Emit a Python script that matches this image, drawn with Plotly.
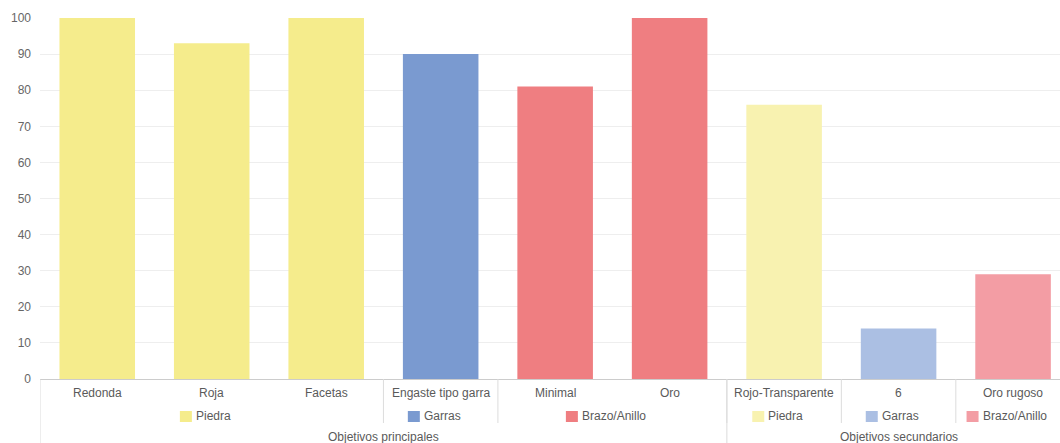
import plotly.graph_objects as go

# three-level category axis: bar label / component / objective group
labels = ["Redonda", "Roja", "Facetas", "Engaste tipo garra", "Minimal", "Oro",
          "Rojo-Transparente", "6", "Oro rugoso"]
components = ["Piedra", "Piedra", "Piedra", "Garras", "Brazo/Anillo", "Brazo/Anillo",
              "Piedra", "Garras", "Brazo/Anillo"]
groups = ["Objetivos principales"] * 6 + ["Objetivos secundarios"] * 3
values = [100, 93, 100, 90, 81, 100, 76, 14, 29]

palette = {
    "Objetivos principales": {"Piedra": "#f5ec8c", "Garras": "#7a9ad0", "Brazo/Anillo": "#ef7e81"},
    "Objetivos secundarios": {"Piedra": "#f8f2b0", "Garras": "#abbfe3", "Brazo/Anillo": "#f39da4"},
}
colors = [palette[g][c] for g, c in zip(groups, components)]

FONT = "Liberation Sans, Arial, sans-serif"
W, H = 1060, 443
M_T, M_B, M_L = 18, 64, 40
PLOT_H = H - M_T - M_B
LINE = "#dcdcdc"
TXT = "#5a5a5a"

# Arial advance widths (per 1000 em) for swatch label centring
CW = {"P": 667, "i": 222, "e": 556, "d": 556, "r": 333, "a": 556, "G": 778, "s": 500,
      "B": 667, "z": 500, "o": 556, "/": 278, "A": 667, "n": 556, "l": 222}


def text_width(s, size=12):
    return sum(CW.get(ch, 556) for ch in s) * size / 1000.0


def runs(keys):
    out, start = [], 0
    for i in range(1, len(keys) + 1):
        if i == len(keys) or keys[i] != keys[start]:
            out.append((start, i - 1))
            start = i
    return out


fig = go.Figure(go.Bar(
    x=labels, y=values, marker_color=colors, marker_line_width=0,
    width=0.66, hoverinfo="x+y",
))

shapes, annotations = [], []

# level 1: bar labels (category index, since "6" would be read as a position)
for i, lab in enumerate(labels):
    annotations.append(dict(x=i, y=0, xref="x", yref="paper", text=lab, showarrow=False,
                            yanchor="middle", yshift=-14, font=dict(size=12, color=TXT)))

# level 2: component with colour swatch (the original sits a few px left of centre)
sub_keys = list(zip(groups, components))
for a, b in runs(sub_keys):
    g, c = sub_keys[a]
    centre = (a + b) / 2.0
    tw = text_width(c)
    total = 12 + 3 + tw
    left = -total / 2 - 7
    shapes.append(dict(type="rect", xref="x", yref="paper", xsizemode="pixel", ysizemode="pixel",
                       xanchor=centre, yanchor=0, x0=left, x1=left + 12, y0=-32, y1=-43,
                       fillcolor=palette[g][c], line=dict(width=0)))
    annotations.append(dict(x=centre, y=0, xref="x", yref="paper", text=c, showarrow=False,
                            xanchor="left", yanchor="middle", xshift=left + 14, yshift=-37,
                            font=dict(size=12, color=TXT)))
    if a > 0:
        shapes.append(dict(type="line", xref="x", yref="paper", x0=a - 0.5, x1=a - 0.5,
                           y0=0, y1=-44 / PLOT_H, line=dict(color=LINE, width=1)))

# level 3: objective groups
for a, b in runs(groups):
    centre = (a + b) / 2.0
    annotations.append(dict(x=centre, y=0, xref="x", yref="paper", text=groups[a], showarrow=False,
                            yanchor="middle", yshift=-58, font=dict(size=12, color=TXT)))
    shapes.append(dict(type="line", xref="x", yref="paper", x0=a - 0.5, x1=a - 0.5,
                       y0=0, y1=-80 / PLOT_H, line=dict(color=LINE, width=1)))

fig.update_layout(
    width=W, height=H,
    margin=dict(l=M_L, r=0, t=M_T, b=M_B, autoexpand=False),
    paper_bgcolor="white", plot_bgcolor="white",
    font=dict(family=FONT, size=12, color="#666"),
    showlegend=False,
    shapes=shapes,
    annotations=annotations,
)
fig.update_xaxes(type="category", range=[-0.5, 8.41], showticklabels=False, ticks="",
                 showgrid=False, showline=True, linecolor="#cccccc", linewidth=1, zeroline=False,
                 automargin=False)
fig.update_yaxes(range=[0, 100], dtick=10, showgrid=True, gridcolor="#eeeeee", gridwidth=1,
                 zeroline=False, showline=False, ticks="", ticklabelstandoff=8, automargin=False,
                 tickfont=dict(size=12, color="#666"))

# the page's default body margin would shift the chart by 8px
fig.write_html("out.html", config={"displayModeBar": False},
               post_script="document.body.style.margin='0';")
